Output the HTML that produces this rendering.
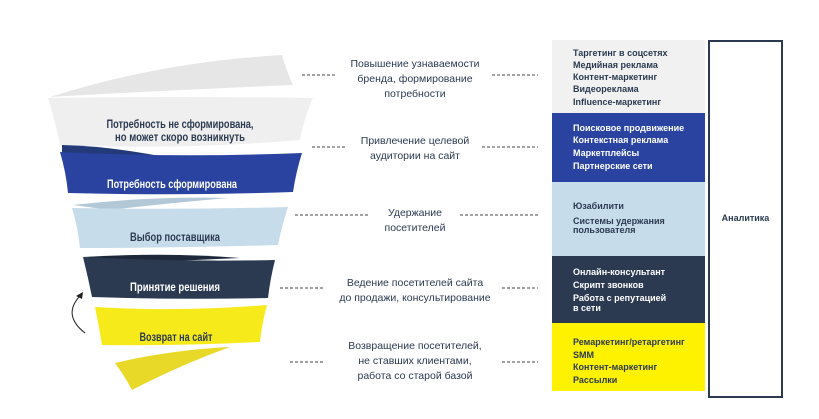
<!DOCTYPE html>
<html><head><meta charset="utf-8"><style>
body{margin:0;background:#fff;}
svg{display:block;}
text{font-family:"Liberation Sans","DejaVu Sans",sans-serif;}
</style></head><body>
<svg width="819" height="419" viewBox="0 0 819 419" xmlns="http://www.w3.org/2000/svg">
<path d="M50,97 Q160,62 282,55 Q286,70 293,85 Q170,90 50,97 Z" fill="#e6e6e6"/>
<path d="M48,98 Q180,96 313,98 Q304,118 300,140 Q180,150 60,145 Q55,120 48,98 Z" fill="#efefef"/>
<path d="M62,145 Q110,146 170,158 L62,160 Z" fill="#223a78"/>
<path d="M60,152 Q180,158 302,153 Q296,172 293,192 Q180,196 68,193 Q66,172 60,152 Z" fill="#2a43a0"/>
<path d="M73,205 Q150,196 228,198 Q160,204 110,210 Z" fill="#b3c8d6"/>
<path d="M72,208 Q180,210 288,207 Q282,225 278,245 Q180,248 80,248 Q78,228 72,208 Z" fill="#c7dcea"/>
<path d="M83,257 Q170,252 240,258 L150,262 Z" fill="#1d283a"/>
<path d="M83,257 Q180,262 275,260 Q270,280 268,298 Q180,300 92,297 Q88,277 83,257 Z" fill="#2b3a50"/>
<path d="M95,307 Q180,312 267,305 Q262,323 260,342 Q180,346 102,345 Q99,326 95,307 Z" fill="#f7ea1a"/>
<path d="M115,363 Q170,350 230,347 Q180,365 132,390 Q124,375 115,363 Z" fill="#e8d828"/>
<path d="M85,333 Q62,315 80,296" fill="none" stroke="#222" stroke-width="1"/>
<path d="M83,292 L76,296 L82,299 Z" fill="#222"/>
<g font-weight="bold" font-size="12" text-anchor="middle">
<text x="180" y="128" fill="#2b3a50" textLength="147" lengthAdjust="spacingAndGlyphs">Потребность не сформирована,</text>
<text x="180" y="141" fill="#2b3a50" textLength="130" lengthAdjust="spacingAndGlyphs">но может скоро возникнуть</text>
<text x="172" y="188" fill="#fff" textLength="130" lengthAdjust="spacingAndGlyphs">Потребность сформирована</text>
<text x="175" y="241" fill="#2b3a50" textLength="90" lengthAdjust="spacingAndGlyphs">Выбор поставщика</text>
<text x="175" y="291" fill="#fff" textLength="90" lengthAdjust="spacingAndGlyphs">Принятие решения</text>
<text x="176" y="341" fill="#2b3a50" textLength="73" lengthAdjust="spacingAndGlyphs">Возврат на сайт</text>
</g>
<g font-size="10.5" fill="#2b3a50" text-anchor="middle">
<text x="415" y="67">Повышение узнаваемости</text>
<text x="415" y="82">бренда, формирование</text>
<text x="415" y="97">потребности</text>
<text x="415" y="144">Привлечение целевой</text>
<text x="415" y="159">аудитории на сайт</text>
<text x="415" y="216">Удержание</text>
<text x="415" y="231">посетителей</text>
<text x="415" y="286">Ведение посетителей сайта</text>
<text x="415" y="301">до продажи, консультирование</text>
<text x="415" y="349">Возвращение посетителей,</text>
<text x="415" y="364">не ставших клиентами,</text>
<text x="415" y="379">работа со старой базой</text>
</g>
<g stroke="#444" stroke-width="1" stroke-dasharray="3,2">
<line x1="302" y1="75" x2="337" y2="75"/><line x1="492" y1="75" x2="538" y2="75"/>
<line x1="312" y1="147" x2="345" y2="147"/><line x1="482" y1="147" x2="538" y2="147"/>
<line x1="295" y1="215" x2="370" y2="215"/><line x1="460" y1="215" x2="538" y2="215"/>
<line x1="280" y1="288" x2="325" y2="288"/><line x1="502" y1="288" x2="538" y2="288"/>
<line x1="290" y1="362" x2="325" y2="362"/><line x1="502" y1="362" x2="538" y2="362"/>
</g>
<rect x="552" y="40" width="153" height="73" fill="#f1f1f1"/>
<rect x="552" y="113" width="153" height="69" fill="#2a43a0"/>
<rect x="552" y="182" width="153" height="74" fill="#c7dcea"/>
<rect x="552" y="256" width="153" height="67" fill="#2b3a50"/>
<rect x="552" y="323" width="153" height="68" fill="#fff200"/>
<g font-size="9" font-weight="bold">
<g fill="#2b3a50"><text x="573" y="56">Таргетинг в соцсетях</text><text x="573" y="68">Медийная реклама</text><text x="573" y="80">Контент-маркетинг</text><text x="573" y="92">Видеореклама</text><text x="573" y="105">Influence-маркетинг</text></g>
<g fill="#fff"><text x="573" y="131">Поисковое продвижение</text><text x="573" y="143">Контекстная реклама</text><text x="573" y="156">Маркетплейсы</text><text x="573" y="169">Партнерские сети</text></g>
<g fill="#2b3a50"><text x="573" y="209">Юзабилити</text><text x="573" y="224">Системы удержания</text><text x="573" y="233">пользователя</text></g>
<g fill="#fff"><text x="573" y="275">Онлайн-консультант</text><text x="573" y="288">Скрипт звонков</text><text x="573" y="301">Работа с репутацией</text><text x="573" y="311">в сети</text></g>
<g fill="#2b3a50"><text x="573" y="345">Ремаркетинг/ретаргетинг</text><text x="573" y="358">SMM</text><text x="573" y="370">Контент-маркетинг</text><text x="573" y="383">Рассылки</text></g>
<text x="745.5" y="221" fill="#2b3a50" text-anchor="middle">Аналитика</text>
</g>
<rect x="709" y="41" width="73" height="356" fill="none" stroke="#2b3a50" stroke-width="2"/>
</svg>
</body></html>
